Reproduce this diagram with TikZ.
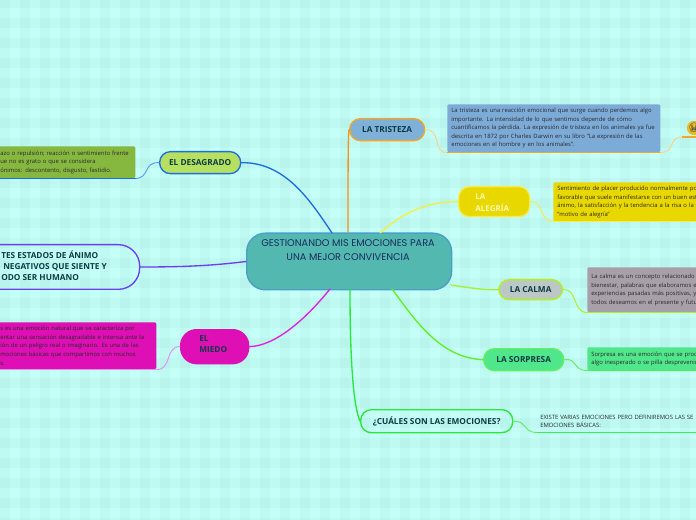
\documentclass[tikz,border=0pt]{standalone}
\usepackage{fontspec}
\setmainfont{Open Sans}
\newfontfamily\emojifont{Noto Emoji}
\newfontfamily\titlefont{Poppins}
\definecolor{bgbase}{HTML}{C4FFF8}
\definecolor{stripe}{HTML}{70B0A8}
\definecolor{ink}{HTML}{0E3B46}
\definecolor{txt}{HTML}{2A2A2A}
\definecolor{cfill}{HTML}{52B8B0}
\definecolor{cedge}{HTML}{4A9FC8}
\definecolor{ctext}{HTML}{1B2B5E}
\definecolor{orange1}{HTML}{F5A623}
\definecolor{orange2}{HTML}{F5951E}
\definecolor{orangel}{HTML}{F6D48A}
\definecolor{trifill}{HTML}{7FB0D8}
\definecolor{ntrifill}{HTML}{7DABD8}
\definecolor{yel1}{HTML}{E8D800}
\definecolor{yel2}{HTML}{F4EC50}
\definecolor{yel3}{HTML}{F4F040}
\definecolor{yeltext}{HTML}{FFF9B0}
\definecolor{calfill}{HTML}{BCC8C6}
\definecolor{lime}{HTML}{B4F01E}
\definecolor{lime2}{HTML}{A8F030}
\definecolor{ncalfill}{HTML}{A8A0A8}
\definecolor{sorfill}{HTML}{50E68C}
\definecolor{green1}{HTML}{60F060}
\definecolor{green2}{HTML}{60F020}
\definecolor{green3}{HTML}{28E838}
\definecolor{green4}{HTML}{38F050}
\definecolor{green5}{HTML}{50F050}
\definecolor{desfill}{HTML}{B5E060}
\definecolor{ndesfill}{HTML}{86B840}
\definecolor{blue1}{HTML}{1D6FE0}
\definecolor{bluel}{HTML}{5C9CF0}
\definecolor{purp}{HTML}{6A3FF0}
\definecolor{mag}{HTML}{DE0FB4}
\definecolor{mag2}{HTML}{E020E0}
\definecolor{magl}{HTML}{E090F0}
\definecolor{emoc}{HTML}{EDB828}
\tikzset{
  px/.style={x=0.75pt,y=-0.75pt},
  topic/.style={draw,rounded corners=#1,line width=1pt,inner sep=0pt,anchor=north west,text=ink,font=\fontsize{6.2pt}{8.2pt}\selectfont\bfseries,align=center},
  topic/.default=8pt,
  note/.style={rounded corners=1pt,inner xsep=3pt,inner ysep=0pt,anchor=north west,text=txt,font=\fontsize{4.42pt}{6.4pt}\selectfont,align=left},
  left note/.style={note,inner xsep=0pt},
  link/.style={line width=1pt,line cap=round},
  thin link/.style={line width=.7pt,line cap=round},
  under/.style={line width=1pt},
  label text/.style={text=ink,font=\fontsize{6.2pt}{8.2pt}\selectfont\bfseries,align=left,inner sep=0pt,anchor=north west}
}
\begin{document}
\begin{tikzpicture}[px]
\useasboundingbox (0,0) rectangle (696,520);
\clip (0,0) rectangle (696,520);
\fill[bgbase] (0,0) rectangle (696,520);
\foreach \i in {0,...,34} {\fill[stripe,opacity=.07] (\i*20,0) rectangle (\i*20+10,520);}
\foreach \j in {0,...,26} {\fill[stripe,opacity=.07] (0,\j*20-2) rectangle (696,\j*20+8);}

% nodes
\node[topic=14pt,fill=cfill,draw=cedge,minimum width=153.75pt,minimum height=42.5pt] (c) at (246,232.5) {};
\node[text=ctext,font=\titlefont\fontsize{7.3pt}{10.6pt}\selectfont,align=center,inner sep=0pt,anchor=north] (ctitle) at (348,239) {GESTIONANDO MIS EMOCIONES PARA\\UNA MEJOR CONVIVENCIA};
\coordinate (cE) at (451,285);

\node[topic,fill=trifill,draw=orange1,minimum width=56.25pt,minimum height=16.5pt] (tri) at (349,118) {LA TRISTEZA};
\node[topic,fill=yel1,draw=yel2,minimum width=53.25pt,minimum height=22.5pt] (ale) at (458,186) {};
\begin{scope}
\clip (458,186) rectangle (529,212);
\node[text=yeltext,font=\fontsize{6pt}{8.4pt}\selectfont\bfseries,align=left,inner sep=0pt,anchor=north west] (aletxt) at (475,194) {LA\\ALEGRÍA};
\end{scope}
\node[topic,fill=calfill,draw=lime,minimum width=48pt,minimum height=15pt] (cal) at (498,279) {LA CALMA};
\node[topic,fill=sorfill,draw=green1,minimum width=60pt,minimum height=16.5pt] (sor) at (483,348) {LA SORPRESA};
\node[topic,draw=green3,minimum width=114pt,minimum height=17.25pt] (cua) at (360,409) {¿CUÁLES SON LAS EMOCIONES?};
\node[topic,fill=desfill,draw=blue1,minimum width=60.75pt,minimum height=16.5pt] (des) at (159,151) {EL DESAGRADO};
\node[topic=16pt,draw=purp,minimum width=129pt,minimum height=33.5pt] (est) at (-33,244) {};
\node[label text] (esttxt) at (1,250.5) {TES ESTADOS DE ÁNIMO\\\hspace*{1.5pt}NEGATIVOS QUE SIENTE Y\\ODO SER HUMANO};
\node[topic=12pt,fill=mag,draw=mag,minimum width=51pt,minimum height=25.5pt] (mie) at (180,329) {};
\node[label text] (mietxt) at (199,335) {EL\\MIEDO};

% notes
\node[note,fill=ntrifill,minimum width=159.75pt,minimum height=36pt,text width=153.75pt] (ntri) at (447,104) {La tristeza es una reacción emocional que surge cuando perdemos algo\\importante. La intensidad de lo que sentimos depende de cómo\\cuantificamos la pérdida. La expresión de tristeza en los animales ya fue\\descrita en 1872 por Charles Darwin en su libro "La expresión de las\\emociones en el hombre y en los animales".};
\node[note,fill=yel1,minimum width=130pt,minimum height=29.25pt,text width=124pt] (nale) at (553,182) {Sentimiento de placer producido normalmente por\\favorable que suele manifestarse con un buen est\\ánimo, la satisfacción y la tendencia a la risa o la s\\"motivo de alegría"};
\node[note,fill=ncalfill,minimum width=100pt,minimum height=33.75pt,text width=94pt] (ncal) at (587,267) {La calma es un concepto relacionado c\\bienestar, palabras que elaboramos e\\experiencias pasadas más positivas, y\\todos deseamos en el presente y futur};
\node[note,fill=sorfill,minimum width=100pt,minimum height=17.25pt,text width=94pt] (nsor) at (587,347) {Sorpresa es una emoción que se prod\\algo inesperado o se pilla desprevenid};
\node[note,inner xsep=2.25pt,minimum width=135pt,minimum height=16.5pt,text width=130.5pt] (ncua) at (537,410) {EXISTE VARIAS EMOCIONES PERO DEFINIREMOS LAS SE\\EMOCIONES BÁSICAS:};
\node[left note,fill=ndesfill,minimum width=108.75pt,minimum height=24pt,text width=108.75pt] (ndes) at (-10,146) {\hspace*{7.5pt}azo o repulsión; reacción o sentimiento frente\\\hspace*{7.5pt}ue no es grato o que se considera\\\hspace*{7.5pt}ónimos: descontento, disgusto, fastidio.};
\node[left note,fill=mag,minimum width=124.5pt,minimum height=35.25pt,text width=124.5pt] (nmie) at (-10,322) {\hspace*{7.5pt}s es una emoción natural que se caracteriza por\\\hspace*{7.5pt}entar una sensación desagradable e intensa ante la\\\hspace*{7.5pt}ión de un peligro real o imaginario. Es una de las\\\hspace*{7.5pt}mociones básicas que compartimos con muchos\\\hspace*{7.5pt}s.};
\node[circle,inner sep=0pt,minimum size=8.5pt,fill=emoc,text=ink,font=\emojifont\fontsize{6.5pt}{6.5pt}\selectfont] (emo) at (694,128) {😭};

% main connectors
\draw[link,draw=blue1] (des.east) .. controls (285,162) and (310,200) .. (332,233);
\draw[link,draw=purp] (est.east) .. controls (180,267) and (210,266) .. (c.west);
\draw[link,draw=mag2] (mie.east) .. controls (275,346) and (305,320) .. (330,289);
\draw[link,draw=orange2] (tri.west) .. controls (348,135) and (348,180) .. (348,232);
\draw[link,draw=yel3] (ale.west) .. controls (425,201) and (400,215) .. (380,233);
\draw[link,draw=lime2] (cal.west) .. controls (480,290) and (465,287) .. (cE);
\draw[link,draw=green2] (sor.west) .. controls (440,358) and (415,320) .. (392,289);
\draw[link,draw=green3] (cua.west) .. controls (356,412) and (350,385) .. (350,289);

% note connectors with underlines
\draw[thin link,draw=orangel] (tri.east) .. controls (442,129) and (432,153) .. (ntri.south west);
\draw[under,draw=orange1] (ntri.south west) -- (ntri.south east);
\coordinate (eend) at (696,137);
\coordinate (estart) at (682,137);
\draw[thin link,draw=orangel] (ntri.south east) .. controls (676,152) and (668,137) .. (estart);
\draw[under,draw=orange1] (estart) -- (eend);
\draw[thin link,draw=yel2] (ale.east) .. controls (545,201) and (538,221) .. (nale.south west);
\draw[under,draw=yel2] (nale.south west) -- (nale.south east);
\draw[thin link,draw=lime] (cal.east) .. controls (578,289) and (572,312) .. (ncal.south west);
\draw[under,draw=lime] (ncal.south west) -- (ncal.south east);
\draw[thin link,draw=green1] (sor.east) .. controls (578,358) and (572,370) .. (nsor.south west);
\draw[under,draw=green5] (nsor.south west) -- (nsor.south east);
\draw[thin link,draw=green1] (cua.east) .. controls (528,421) and (522,432) .. (ncua.south west);
\draw[under,line width=1.2pt,draw=green4] (ncua.south west) -- (ncua.south east);
\draw[thin link,draw=bluel] (des.west) .. controls (143,162) and (150,178) .. (ndes.south east);
\draw[under,draw=blue1] (ndes.south west) -- (ndes.south east);
\draw[thin link,draw=magl] (mie.west) .. controls (165,346) and (172,370) .. (nmie.south east);
\draw[under,draw=magl] (nmie.south west) -- (nmie.south east);
\end{tikzpicture}
\end{document}
